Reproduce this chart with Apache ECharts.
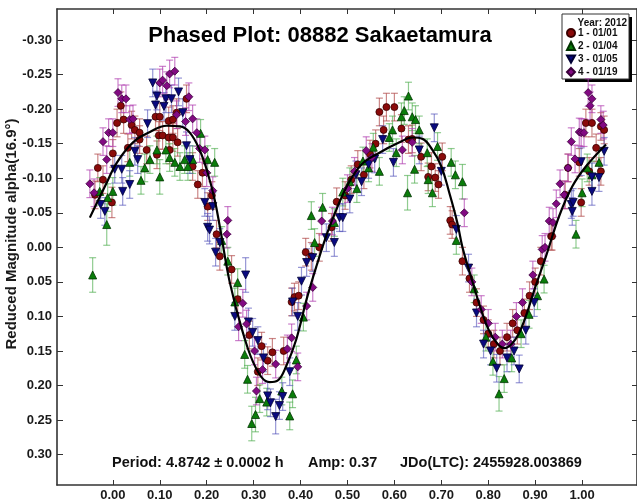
<!DOCTYPE html>
<html><head><meta charset="utf-8">
<script src="https://cdn.jsdelivr.net/npm/echarts@6/dist/echarts.min.js"></script>
<style>html,body{margin:0;padding:0;background:#fff}#c{width:637px;height:502px}</style>
</head><body><div id="c"></div>
<script>
// [phase, reduced magnitude, error]
const s1 = [[-0.038,-0.076,0.02],[-0.032,-0.115,0.02],[-0.021,-0.098,0.02],[-0.002,-0.065,0.022],[0.0,-0.136,0.02],[0.009,-0.180,0.02],[0.017,-0.205,0.02],[0.023,-0.185,0.02],[0.032,-0.144,0.02],[0.040,-0.177,0.02],[0.047,-0.170,0.02],[0.057,-0.166,0.02],[0.057,-0.156,0.02],[0.072,-0.141,0.02],[0.091,-0.189,0.02],[0.094,-0.134,0.02],[0.098,-0.162,0.02],[0.100,-0.189,0.02],[0.106,-0.162,0.02],[0.119,-0.183,0.02],[0.119,-0.159,0.02],[0.121,-0.141,0.02],[0.128,-0.185,0.02],[0.128,-0.159,0.02],[0.136,-0.195,0.02],[0.138,-0.152,0.02],[0.157,-0.215,0.02],[0.170,-0.117,0.02],[0.181,-0.091,0.02],[0.191,-0.108,0.02],[0.202,-0.059,0.02],[0.211,-0.075,0.02],[0.221,-0.019,0.02],[0.228,0.013,0.02],[0.253,0.032,0.02],[0.266,0.075,0.02],[0.291,0.127,0.02],[0.309,0.180,0.02],[0.317,0.143,0.02],[0.330,0.164,0.02],[0.340,0.152,0.02],[0.364,0.150,0.02],[0.381,0.079,0.02],[0.387,0.072,0.02],[0.396,0.070,0.02],[0.411,0.007,0.02],[0.423,0.013,0.02],[0.440,0.0,0.02],[0.466,-0.029,0.02],[0.477,-0.066,0.02],[0.495,-0.075,0.02],[0.508,-0.098,0.02],[0.522,-0.120,0.02],[0.535,-0.105,0.02],[0.548,-0.135,0.02],[0.560,-0.150,0.02],[0.568,-0.196,0.02],[0.577,-0.170,0.02],[0.583,-0.203,0.02],[0.600,-0.203,0.02],[0.615,-0.172,0.02],[0.630,-0.156,0.02],[0.638,-0.157,0.02],[0.657,-0.131,0.02],[0.672,-0.102,0.02],[0.679,-0.117,0.02],[0.687,-0.101,0.02],[0.694,-0.091,0.02],[0.702,-0.131,0.02],[0.719,-0.039,0.02],[0.723,-0.033,0.02],[0.745,0.020,0.02],[0.760,0.045,0.02],[0.775,0.080,0.02],[0.790,0.105,0.02],[0.800,0.125,0.02],[0.812,0.140,0.02],[0.825,0.150,0.02],[0.840,0.130,0.02],[0.852,0.110,0.02],[0.862,0.120,0.02],[0.877,0.095,0.02],[0.888,0.070,0.02],[0.900,0.050,0.02],[0.912,0.020,0.02],[0.934,-0.016,0.02],[0.936,-0.016,0.02],[0.964,-0.076,0.02],[0.970,-0.115,0.02],[0.994,-0.123,0.02],[0.998,-0.065,0.02],[1.008,-0.180,0.02],[1.015,-0.110,0.02],[1.021,-0.180,0.02],[1.030,-0.144,0.02],[1.040,-0.175,0.02],[1.040,-0.110,0.02],[1.047,-0.170,0.02]];
const s2 = [[-0.043,0.040,0.025],[-0.028,-0.081,0.02],[-0.013,-0.033,0.03],[-0.011,-0.072,0.02],[0.0,-0.081,0.02],[0.036,-0.123,0.02],[0.060,-0.097,0.02],[0.068,-0.115,0.02],[0.079,-0.127,0.02],[0.094,-0.141,0.02],[0.100,-0.102,0.025],[0.113,-0.141,0.02],[0.121,-0.130,0.02],[0.132,-0.123,0.02],[0.143,-0.117,0.02],[0.153,-0.127,0.02],[0.160,-0.117,0.02],[0.170,-0.127,0.02],[0.187,-0.165,0.02],[0.202,-0.127,0.02],[0.217,-0.123,0.02],[0.232,-0.010,0.02],[0.245,0.020,0.02],[0.260,0.079,0.02],[0.266,0.051,0.02],[0.281,0.155,0.02],[0.287,0.191,0.02],[0.296,0.255,0.025],[0.304,0.242,0.025],[0.313,0.219,0.02],[0.328,0.224,0.02],[0.360,0.208,0.02],[0.377,0.244,0.02],[0.383,0.212,0.02],[0.391,0.163,0.02],[0.406,0.101,0.02],[0.423,-0.046,0.02],[0.430,-0.007,0.02],[0.447,-0.058,0.02],[0.472,-0.036,0.02],[0.490,-0.080,0.02],[0.505,-0.095,0.02],[0.520,-0.085,0.02],[0.533,-0.125,0.02],[0.545,-0.115,0.02],[0.555,-0.145,0.02],[0.568,-0.110,0.02],[0.589,-0.159,0.02],[0.596,-0.170,0.02],[0.604,-0.137,0.02],[0.615,-0.189,0.02],[0.621,-0.198,0.02],[0.628,-0.079,0.025],[0.630,-0.219,0.02],[0.638,-0.189,0.02],[0.643,-0.113,0.02],[0.645,-0.185,0.02],[0.653,-0.170,0.02],[0.670,-0.137,0.02],[0.672,-0.098,0.02],[0.681,-0.079,0.02],[0.692,-0.146,0.02],[0.721,-0.123,0.02],[0.730,-0.105,0.02],[0.732,-0.010,0.02],[0.745,-0.095,0.025],[0.770,0.060,0.02],[0.795,0.130,0.02],[0.810,0.165,0.02],[0.823,0.212,0.025],[0.834,0.190,0.02],[0.850,0.160,0.02],[0.870,0.125,0.02],[0.887,0.097,0.02],[0.905,0.070,0.02],[0.919,0.046,0.02],[0.987,-0.019,0.02],[1.0,-0.079,0.02],[1.011,-0.115,0.02],[1.021,-0.105,0.02],[1.036,-0.123,0.02]];
const s3 = [[-0.026,-0.062,0.02],[-0.017,-0.052,0.02],[0.004,-0.113,0.02],[0.019,-0.113,0.02],[0.021,-0.081,0.02],[0.036,-0.091,0.02],[0.047,-0.139,0.02],[0.053,-0.127,0.02],[0.074,-0.179,0.02],[0.085,-0.238,0.02],[0.091,-0.206,0.02],[0.094,-0.219,0.02],[0.109,-0.204,0.02],[0.113,-0.215,0.02],[0.125,-0.215,0.02],[0.140,-0.225,0.02],[0.149,-0.195,0.02],[0.157,-0.147,0.02],[0.164,-0.127,0.02],[0.196,-0.065,0.02],[0.202,-0.029,0.02],[0.206,-0.025,0.02],[0.213,-0.059,0.02],[0.219,0.007,0.02],[0.228,-0.007,0.02],[0.260,0.100,0.02],[0.283,0.040,0.025],[0.289,0.108,0.02],[0.298,0.123,0.02],[0.309,0.135,0.02],[0.321,0.160,0.02],[0.330,0.215,0.02],[0.336,0.225,0.02],[0.347,0.245,0.025],[0.355,0.229,0.02],[0.362,0.216,0.02],[0.377,0.180,0.02],[0.383,0.079,0.02],[0.394,0.100,0.02],[0.402,0.049,0.02],[0.413,0.022,0.02],[0.426,0.015,0.02],[0.455,-0.014,0.02],[0.472,-0.007,0.02],[0.483,-0.043,0.02],[0.490,-0.043,0.02],[0.505,-0.070,0.02],[0.518,-0.105,0.02],[0.530,-0.095,0.02],[0.545,-0.120,0.02],[0.558,-0.128,0.02],[0.575,-0.156,0.02],[0.598,-0.123,0.02],[0.653,-0.141,0.02],[0.685,-0.173,0.02],[0.700,-0.110,0.02],[0.732,-0.026,0.02],[0.758,0.030,0.02],[0.775,0.095,0.02],[0.790,0.140,0.02],[0.805,0.150,0.02],[0.818,0.175,0.02],[0.840,0.160,0.02],[0.855,0.150,0.02],[0.866,0.176,0.02],[0.880,0.120,0.02],[0.898,0.080,0.02],[0.977,-0.062,0.02],[0.981,-0.065,0.02],[0.979,-0.052,0.02],[0.998,-0.124,0.02],[1.021,-0.081,0.02],[1.021,-0.102,0.02],[1.036,-0.101,0.02],[1.047,-0.139,0.02]];
const s4 = [[-0.049,-0.092,0.02],[-0.040,-0.079,0.02],[-0.021,-0.153,0.02],[-0.013,-0.127,0.02],[-0.009,-0.166,0.02],[0.0,-0.166,0.02],[0.011,-0.224,0.02],[0.019,-0.215,0.02],[0.028,-0.215,0.02],[0.036,-0.185,0.02],[0.043,-0.186,0.02],[0.100,-0.238,0.02],[0.106,-0.242,0.02],[0.115,-0.234,0.02],[0.121,-0.251,0.02],[0.132,-0.255,0.02],[0.136,-0.192,0.02],[0.155,-0.182,0.02],[0.162,-0.218,0.02],[0.170,-0.186,0.02],[0.179,-0.166,0.02],[0.185,-0.143,0.02],[0.196,-0.141,0.02],[0.200,-0.108,0.02],[0.213,-0.082,0.02],[0.243,-0.019,0.02],[0.245,-0.039,0.02],[0.268,0.115,0.02],[0.277,0.081,0.02],[0.285,0.111,0.02],[0.302,0.150,0.02],[0.306,0.208,0.02],[0.319,0.177,0.02],[0.347,0.169,0.02],[0.372,0.147,0.02],[0.381,0.131,0.02],[0.394,0.173,0.02],[0.413,0.085,0.02],[0.426,0.058,0.02],[0.445,-0.038,0.02],[0.468,-0.038,0.02],[0.500,-0.085,0.02],[0.515,-0.110,0.02],[0.540,-0.140,0.02],[0.552,-0.130,0.02],[0.617,-0.141,0.02],[0.638,-0.152,0.02],[0.749,-0.050,0.02],[0.765,0.050,0.02],[0.785,0.090,0.02],[0.800,0.110,0.02],[0.815,0.130,0.02],[0.830,0.140,0.02],[0.848,0.140,0.02],[0.860,0.100,0.02],[0.873,0.080,0.02],[0.895,0.040,0.02],[0.915,0.003,0.02],[0.921,0.0,0.02],[0.930,-0.038,0.02],[0.938,-0.036,0.02],[0.945,-0.063,0.02],[0.953,-0.092,0.02],[0.962,-0.076,0.02],[0.970,-0.115,0.02],[0.977,-0.153,0.02],[0.985,-0.128,0.02],[0.994,-0.167,0.02],[0.998,-0.166,0.02],[1.004,-0.166,0.02],[1.013,-0.224,0.02],[1.017,-0.205,0.02],[1.021,-0.215,0.02],[1.040,-0.185,0.02],[1.045,-0.177,0.02]];
const fitPhase = [-0.049,-0.017,0.009,0.043,0.079,0.115,0.143,0.164,0.185,0.202,0.217,0.228,0.249,0.277,0.306,0.334,0.351,0.370,0.391,0.413,0.434,0.457,0.479,0.500,0.530,0.568,0.611,0.638,0.660,0.681,0.700,0.717,0.734,0.745,0.760,0.780,0.800,0.820,0.835,0.850,0.865,0.880,0.900,0.923,0.951,0.979,1.008,1.051];
const fitMag = [-0.043,-0.088,-0.123,-0.152,-0.167,-0.176,-0.175,-0.166,-0.141,-0.108,-0.069,-0.030,0.050,0.123,0.176,0.195,0.193,0.171,0.133,0.075,0.027,-0.021,-0.059,-0.090,-0.120,-0.137,-0.152,-0.159,-0.157,-0.141,-0.117,-0.079,-0.036,0.0,0.035,0.080,0.118,0.140,0.146,0.140,0.125,0.100,0.058,0.013,-0.045,-0.088,-0.117,-0.149];
const seriesNames = ['1 - 01/01','2 - 01/04','3 - 01/05','4 - 01/19'];
const yTicks = [-0.30,-0.25,-0.20,-0.15,-0.10,-0.05,0.00,0.05,0.10,0.15,0.20,0.25,0.30];
const xTicks = [0.00,0.10,0.20,0.30,0.40,0.50,0.60,0.70,0.80,0.90,1.00];

const FONT = '"Liberation Sans", Arial, sans-serif';
const markerColors = ['#8a0a0a','#0a7d0a','#0a0a80','#820a82'];
const borderColors = ['#3a0000','#003300','#000033','#3a003a'];
const barColors = ['rgba(175,70,70,0.65)','rgba(70,170,70,0.6)','rgba(80,80,185,0.6)','rgba(175,60,175,0.65)'];
const symbols = ['circle','triangle','path://M0,0 L10,0 L5,9 Z','diamond'];
const symSizes = [7,8,8,8];
const allData = [s1,s2,s3,s4];

const series = [];
allData.forEach((d,i)=>{
  series.push({
    type:'custom', name:seriesNames[i]+'_err', xAxisIndex:0, yAxisIndex:0, z:2,
    data:d.map(p=>[p[0],p[1]-p[2],p[1]+p[2]]),
    encode:{x:0,y:[1,2]}, silent:true, clip:true,
    renderItem:(params,api)=>{
      const x=api.value(0);
      const a=api.coord([x,api.value(1)]), b=api.coord([x,api.value(2)]);
      const st={stroke:barColors[i],lineWidth:1.2};
      return {type:'group',children:[
        {type:'line',shape:{x1:a[0],y1:a[1],x2:b[0],y2:b[1]},style:st},
        {type:'line',shape:{x1:a[0]-3.5,y1:a[1],x2:a[0]+3.5,y2:a[1]},style:st},
        {type:'line',shape:{x1:b[0]-3.5,y1:b[1],x2:b[0]+3.5,y2:b[1]},style:st}
      ]};
    }
  });
});
allData.forEach((d,i)=>{
  series.push({
    type:'scatter', name:seriesNames[i], xAxisIndex:0, yAxisIndex:0, z:3,
    symbol:symbols[i], symbolSize:symSizes[i],
    itemStyle:{color:markerColors[i],borderColor:borderColors[i],borderWidth:0.8,opacity:1},
    data:d.map(p=>[p[0],p[1]])
  });
});
series.push({
  type:'line', name:'fit', xAxisIndex:0, yAxisIndex:0, z:4, smooth:0.4, showSymbol:false, symbol:'none',
  lineStyle:{color:'#000',width:2.2}, data:fitPhase.map((p,k)=>[p,fitMag[k]]), silent:true
});

const axisLine = {show:true,onZero:false,lineStyle:{color:'#333',width:1.6}};
const lbl = {fontFamily:FONT,fontWeight:'bold',fontSize:13,color:'#1a1a1a'};
const option = {
  animation:false,
  backgroundColor:'#fff',
  grid:{left:57,top:9,right:-1,bottom:16,containLabel:false},
  xAxis:[
    {type:'value',min:-0.119,max:1.117,position:'bottom',axisLine:axisLine,splitLine:{show:false},
     axisTick:{show:true,inside:true,length:5,customValues:xTicks,lineStyle:{color:'#333',width:1}},
     axisLabel:Object.assign({show:true,margin:4,customValues:xTicks,formatter:v=>v.toFixed(2)},lbl)},
    {type:'value',min:-0.119,max:1.117,position:'top',axisLine:axisLine,splitLine:{show:false},
     axisTick:{show:true,inside:true,length:5,customValues:xTicks,lineStyle:{color:'#333',width:1}},
     axisLabel:{show:false}}
  ],
  yAxis:[
    {type:'value',inverse:true,min:-0.345,max:0.344,position:'left',axisLine:axisLine,splitLine:{show:false},
     axisTick:{show:true,inside:true,length:6,customValues:yTicks,lineStyle:{color:'#333',width:1}},
     axisLabel:Object.assign({show:true,margin:5,customValues:yTicks,formatter:v=>(Math.abs(v)<1e-9?0:v).toFixed(2)},lbl)},
    {type:'value',inverse:true,min:-0.345,max:0.344,position:'right',axisLine:axisLine,splitLine:{show:false},
     axisTick:{show:true,inside:true,length:5,customValues:yTicks,lineStyle:{color:'#333',width:1}},
     axisLabel:{show:false}}
  ],
  legend:{
    show:true, orient:'vertical', left:566, top:28, itemWidth:8, itemHeight:8, itemGap:3,
    data:seriesNames, selectedMode:false, padding:0,
    textStyle:{fontFamily:FONT,fontWeight:'bold',fontSize:10,color:'#111',padding:[0,0,0,-2]}
  },
  graphic:[
    {type:'rect',z:0,shape:{x:565,y:17,width:67,height:65},style:{fill:'#000'}},
    {type:'rect',z:1,shape:{x:562,y:14,width:67,height:65},style:{fill:'#fff',stroke:'#333',lineWidth:1}},
    {type:'text',z:5,x:627,y:23,style:{text:'Year: 2012',font:'bold 10px '+FONT,fill:'#111',align:'right',verticalAlign:'middle'}},
    {type:'text',z:5,x:320,y:36,style:{text:'Phased Plot: 08882 Sakaetamura',font:'bold 22px '+FONT,fill:'#000',align:'center',verticalAlign:'middle'}},
    {type:'text',z:5,x:12,y:234,rotation:Math.PI/2,style:{text:'Reduced Magnitude alpha(16.9°)',font:'bold 15px '+FONT,fill:'#1a1a1a',align:'center',verticalAlign:'middle'}},
    {type:'text',z:5,x:112,y:463,style:{text:'Period: 4.8742 ± 0.0002 h',font:'bold 14.5px '+FONT,fill:'#111',align:'left',verticalAlign:'middle'}},
    {type:'text',z:5,x:308,y:463,style:{text:'Amp: 0.37',font:'bold 14.5px '+FONT,fill:'#111',align:'left',verticalAlign:'middle'}},
    {type:'text',z:5,x:400,y:463,style:{text:'JDo(LTC): 2455928.003869',font:'bold 14.5px '+FONT,fill:'#111',align:'left',verticalAlign:'middle'}}
  ],
  series:series
};
const chart = echarts.init(document.getElementById('c'),null,{renderer:'canvas',width:637,height:502});
chart.setOption(option);
</script></body></html>
